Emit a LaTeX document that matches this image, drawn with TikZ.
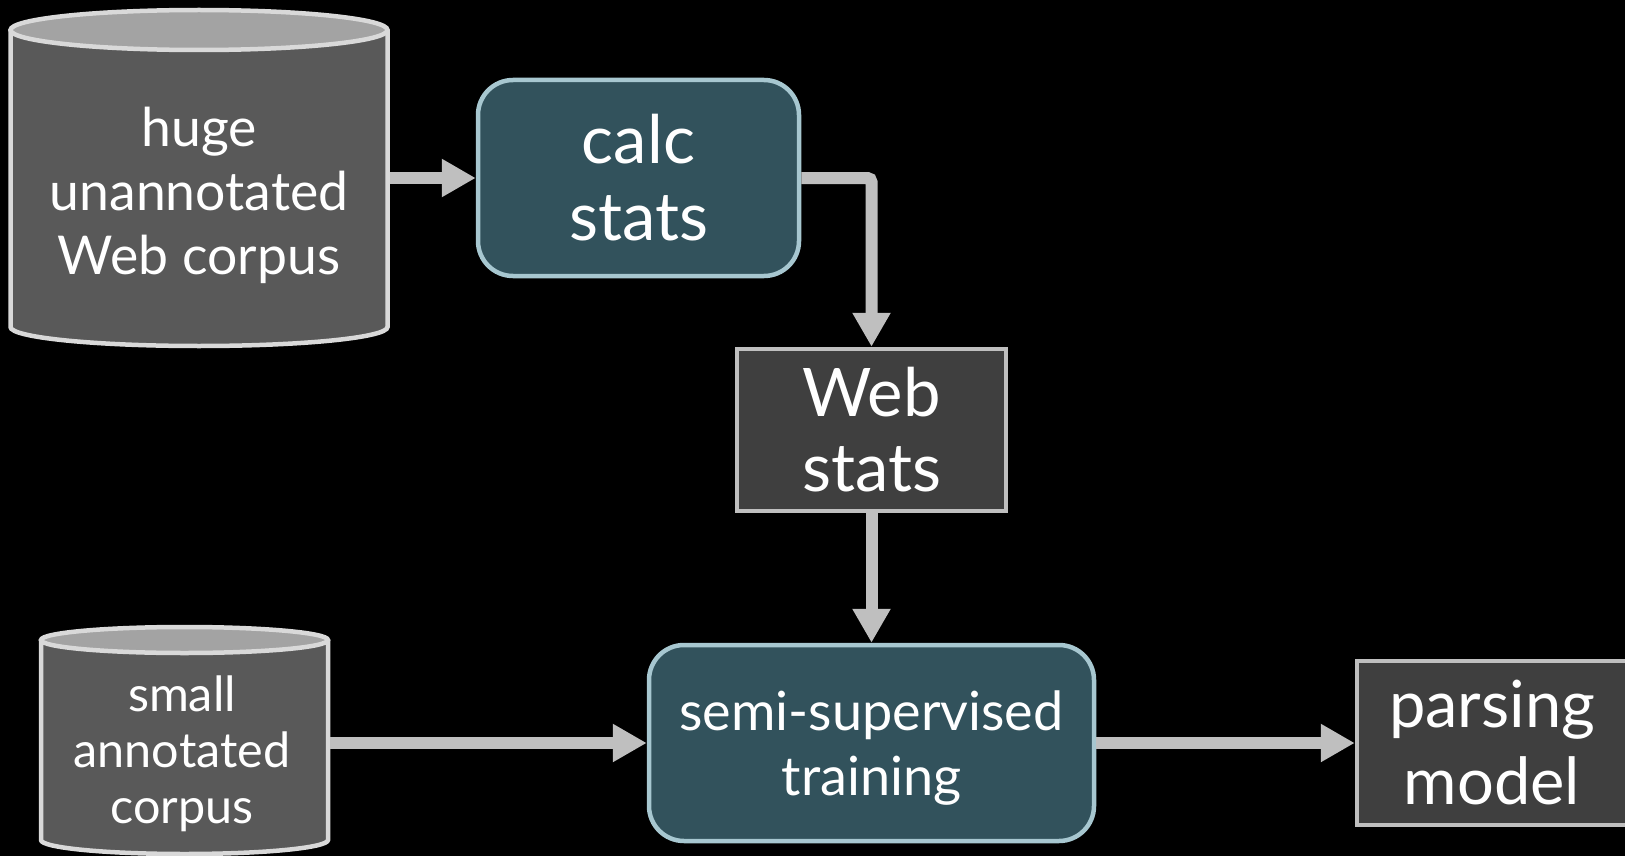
\documentclass[tikz,border=0pt]{standalone}
\usepackage{fontspec}
\setmainfont{Lato}
\usetikzlibrary{arrows.meta}
\definecolor{cylbody}{HTML}{595959}
\definecolor{cyltop}{HTML}{A3A3A3}
\definecolor{cylline}{HTML}{D9D9D9}
\definecolor{tealfill}{HTML}{32525C}
\definecolor{tealline}{HTML}{A7C7D0}
\definecolor{darkfill}{HTML}{3F3F3F}
\definecolor{arrowgray}{HTML}{BFBFBF}
\begin{document}
\begin{tikzpicture}[x=1pt,y=-1pt,
  flow/.style={draw=arrowgray, line width=12pt, -{Triangle[width=36pt,length=34pt]}},
  procbox/.style={draw=tealline, fill=tealfill, line width=4.5pt, rounded corners=35pt, text=white, align=center, inner sep=0pt},
  databox/.style={draw=arrowgray, fill=darkfill, line width=4.5pt, text=white, align=center, inner sep=0pt},
  cylarea/.style={inner sep=0pt, outer sep=0pt},
  cyllabel/.style={text=white, align=center, inner sep=0pt},
  cylside/.style={fill=cylbody},
  cylcap/.style={fill=cyltop, draw=cylline, line width=4.5pt},
  cylrim/.style={draw=cylline, line width=4.5pt}]
\useasboundingbox (0,0) rectangle (1625,856);
\fill[black] (0,0) rectangle (1625,856);

% big cylinder
\fill[cylside] (10.5,30) -- (10.5,327) arc[start angle=180,end angle=0,x radius=188.5,y radius=19] -- (387.5,30) -- cycle;
\draw[cylrim] (10.5,30) -- (10.5,327) arc[start angle=180,end angle=0,x radius=188.5,y radius=19] -- (387.5,30);
\draw[cylcap] (199,30) ellipse [x radius=188.5, y radius=20];
\node[cylarea, minimum width=382pt, minimum height=297pt] (huge) at (199,178.5) {};
\node[cyllabel, font=\fontsize{53.5}{64}\selectfont] (hugetext) at (199,195) {huge\\unannotated\\Web corpus};

% small cylinder
\fill[cylside] (41,640) -- (41,840) arc[start angle=180,end angle=0,x radius=143.5,y radius=14] -- (328,640) -- cycle;
\draw[cylrim] (41,640) -- (41,840) arc[start angle=180,end angle=0,x radius=143.5,y radius=14] -- (328,640);
\draw[cylcap] (184.5,640) ellipse [x radius=143.5, y radius=13];
\node[cylarea, minimum width=291pt, minimum height=200pt] (small) at (184.5,740) {};
\node[cyllabel, font=\fontsize{48.5}{56}\selectfont] (smalltext) at (182,754) {small\\annotated\\corpus};

% process boxes
\node[procbox, minimum width=321pt, minimum height=196pt, font=\fontsize{67}{77}\selectfont] (calc) at (638.5,178) {calc\\stats};
\node[databox, minimum width=269pt, minimum height=162pt, font=\fontsize{67}{75}\selectfont] (web) at (871.5,430) {Web\\stats};
\node[procbox, minimum width=445pt, minimum height=196pt, text depth=0pt, font=\fontsize{54}{65}\selectfont] (semi) at (871.5,743) {semi-supervised\\training};
\node[databox, minimum width=270pt, minimum height=164pt, font=\fontsize{65}{77}\selectfont] (parse) at (1492,743) {parsing\\model};

% connectors
\draw[flow] (huge.east |- calc.west) -- (calc.west);
\draw[flow, rounded corners=4pt] (calc.east) -| (web.north);
\draw[flow] (web.south) -- (semi.north);
\draw[flow] (small.east |- semi.west) -- (semi.west);
\draw[flow] (semi.east) -- (parse.west);
\end{tikzpicture}
\end{document}
